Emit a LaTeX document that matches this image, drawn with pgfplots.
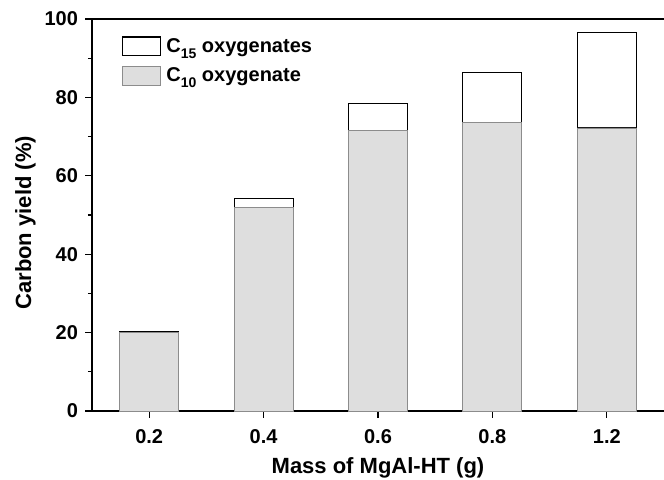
\documentclass[border=0pt]{standalone}
\usepackage{fontspec}
\setmainfont{Liberation Sans}
\usepackage{pgfplots}
\pgfplotsset{compat=1.18}

\definecolor{barfill}{HTML}{DEDEDE}
\definecolor{baredge}{HTML}{8C8C8C}
\newcommand{\sub}[1]{\raisebox{-4.5pt}{\fontsize{10.5}{11}\selectfont #1}}

\begin{document}
\begin{tikzpicture}
\begin{axis}[
  scale only axis,
  width=429pt, height=294pt,
  ybar stacked,
  bar width=44.25pt,
  xmin=-0.5, xmax=4.5,
  ymin=0, ymax=100,
  xtick=data,
  xticklabels={0.2,0.4,0.6,0.8,1.2},
  ytick={0,20,40,60,80,100},
  minor y tick num=1,
  axis x line*=box,
  axis y line*=left,
  x axis line style={-},
  y axis line style={-},
  xtick pos=bottom,
  ytick pos=left,
  tick align=outside,
  major tick length=5pt,
  minor tick length=3pt,
  every tick/.style={black, line width=0.8pt},
  axis line style={line width=1pt},
  /pgf/number format/assume math mode=true,
  ticklabel style={font=\fontsize{15}{18}\selectfont\bfseries},
  xticklabel style={yshift=-5pt},
  yticklabel style={xshift=-2pt},
  xlabel={Mass of MgAl-HT (g)},
  ylabel={Carbon yield (\%)},
  label style={font=\fontsize{16.5}{19}\selectfont\bfseries},
  xlabel style={at={(axis description cs:0.5,0)}, anchor=base, yshift=-46.5pt},
  ylabel style={at={(axis description cs:0,0.48)}, anchor=center, yshift=50pt},
  reverse legend,
  legend cell align=left,
  legend style={at={(axis description cs:0.045,0.965)}, anchor=north west,
    draw=none, fill=none, font=\fontsize{15}{18}\selectfont\bfseries,
    row sep=6pt, nodes={inner xsep=4pt}},
  legend image code/.code={\draw[#1] (0pt,-7pt) rectangle (28.5pt,7pt);},
]
\addplot[fill=barfill, draw=baredge, line width=0.6pt] coordinates
  {(0,20.1) (1,52.0) (2,71.5) (3,73.6) (4,72.2)};
\addlegendentry{C\sub{10} oxygenate}
\addplot[fill=white, draw=black, line width=0.8pt] coordinates
  {(0,0.3) (1,2.1) (2,7.0) (3,12.7) (4,24.3)};
\addlegendentry{C\sub{15} oxygenates}
\end{axis}
\pgfresetboundingbox
\path[use as bounding box] (-69pt,-51pt) rectangle (429pt,308.25pt);
\end{tikzpicture}
\end{document}
